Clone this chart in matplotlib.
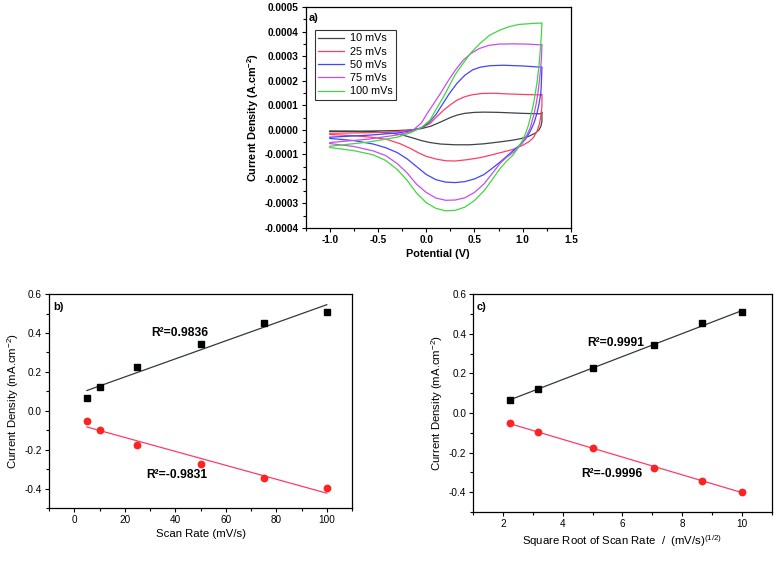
import numpy as np
import matplotlib
matplotlib.use("Agg")
import matplotlib.pyplot as plt
from matplotlib.ticker import MultipleLocator, FormatStrFormatter

plt.rcParams['font.family'] = ['Liberation Sans', 'DejaVu Sans']
plt.rcParams['axes.unicode_minus'] = False
plt.rcParams['mathtext.fontset'] = 'custom'
plt.rcParams['mathtext.rm'] = 'Liberation Sans'
plt.rcParams['mathtext.it'] = 'Liberation Sans:italic'
plt.rcParams['mathtext.bf'] = 'Liberation Sans:bold'

# ---- panel a) cyclic voltammograms, current in units of 1e-4 A/cm2 ----
cv_labels = ['10 mVs', '25 mVs', '50 mVs', '75 mVs', '100 mVs']
cv_colors = ['#3c4446', '#ff3d63', '#3f45ff', '#c84cf2', '#3fd83f']

e_10 = [-1.0, -0.6, -0.3, -0.15, -0.05, 0.05, 0.15, 0.25, 0.32, 0.4, 0.5, 0.6, 0.75, 1.0, 1.19, 1.2,
        1.2, 1.19, 1.17, 1.13, 1.06, 0.98, 0.9, 0.77, 0.6, 0.45, 0.3, 0.15, 0.04, -0.05, -0.15, -0.25,
        -0.35, -0.5, -0.75, -1.0]
i_10 = [-0.06, -0.05, -0.03, 0.0, 0.05, 0.15, 0.32, 0.50, 0.60, 0.67, 0.71, 0.72, 0.71, 0.67, 0.65, 0.72,
        0.35, 0.15, 0.0, -0.14, -0.27, -0.36, -0.42, -0.49, -0.57, -0.61, -0.61, -0.58, -0.52, -0.44, -0.32, -0.21,
        -0.14, -0.10, -0.07, -0.06]

e_25 = [-1.0, -0.6, -0.3, -0.15, -0.05, 0.04, 0.1, 0.18, 0.25, 0.32, 0.4, 0.48, 0.58, 0.7, 0.85, 1.0, 1.19, 1.2,
        1.2, 1.19, 1.175, 1.15, 1.11, 1.06, 1.0, 0.9, 0.77, 0.66, 0.55, 0.42, 0.3, 0.2, 0.1, 0.0, -0.08,
        -0.16, -0.27, -0.4, -0.55, -0.75, -1.0]
i_25 = [-0.14, -0.12, -0.07, -0.01, 0.08, 0.26, 0.50, 0.80, 1.02, 1.21, 1.35, 1.43, 1.48, 1.49, 1.46, 1.44, 1.42, 1.45,
        1.0, 0.60, 0.25, -0.05, -0.33, -0.50, -0.63, -0.80, -0.93, -1.04, -1.14, -1.22, -1.27, -1.26, -1.19, -1.08, -0.94,
        -0.77, -0.57, -0.40, -0.31, -0.24, -0.19]

e_50 = [-1.0, -0.6, -0.3, -0.15, -0.05, 0.03, 0.1, 0.17, 0.24, 0.32, 0.4, 0.48, 0.56, 0.66, 0.8, 1.0, 1.19, 1.2,
        1.195, 1.19, 1.17, 1.15, 1.12, 1.08, 1.03, 0.96, 0.88, 0.77, 0.68, 0.6, 0.5, 0.4, 0.3, 0.2, 0.1, 0.0,
        -0.1, -0.2, -0.3, -0.42, -0.55, -0.75, -1.0]
i_50 = [-0.30, -0.22, -0.13, -0.04, 0.08, 0.30, 0.62, 1.05, 1.48, 1.90, 2.22, 2.44, 2.55, 2.61, 2.63, 2.60, 2.55, 2.56,
        2.0, 1.55, 1.05, 0.70, 0.30, -0.05, -0.38, -0.66, -0.92, -1.30, -1.58, -1.82, -2.00, -2.11, -2.15, -2.13, -2.03, -1.82,
        -1.50, -1.18, -0.93, -0.73, -0.58, -0.44, -0.35]

e_75 = [-1.0, -0.6, -0.3, -0.15, -0.05, 0.01, 0.08, 0.15, 0.22, 0.3, 0.38, 0.46, 0.55, 0.65, 0.75, 0.9, 1.05, 1.19, 1.2,
        1.196, 1.19, 1.175, 1.16, 1.14, 1.115, 1.08, 1.04, 1.0, 0.95, 0.9, 0.83, 0.77, 0.68, 0.6, 0.5, 0.4, 0.3, 0.2,
        0.1, 0.0, -0.1, -0.2, -0.3, -0.42, -0.55, -0.75, -1.0]
i_75 = [-0.52, -0.38, -0.21, -0.06, 0.28, 0.67, 1.08, 1.50, 1.95, 2.42, 2.82, 3.10, 3.31, 3.44, 3.49, 3.50, 3.49, 3.46, 3.48,
        3.0, 2.64, 2.05, 1.55, 1.05, 0.60, 0.10, -0.25, -0.52, -0.75, -0.93, -1.13, -1.35, -1.80, -2.20, -2.55, -2.77, -2.86, -2.87,
        -2.78, -2.55, -2.22, -1.75, -1.38, -1.05, -0.86, -0.68, -0.56]

e_100 = [-1.0, -0.6, -0.3, -0.15, -0.05, 0.04, 0.1, 0.18, 0.24, 0.3, 0.37, 0.46, 0.56, 0.66, 0.77, 0.86, 0.96, 1.1, 1.2,
         1.195, 1.185, 1.17, 1.15, 1.13, 1.11, 1.085, 1.06, 1.03, 0.99, 0.94, 0.9, 0.84, 0.77, 0.68, 0.6, 0.5, 0.4, 0.3,
         0.2, 0.1, 0.0, -0.1, -0.2, -0.3, -0.42, -0.55, -0.75, -1.0]
i_100 = [-0.67, -0.50, -0.30, -0.10, 0.10, 0.40, 0.82, 1.35, 1.80, 2.25, 2.64, 3.12, 3.53, 3.86, 4.07, 4.20, 4.29, 4.33, 4.35,
         3.90, 3.35, 2.65, 1.96, 1.45, 1.01, 0.58, 0.19, -0.15, -0.49, -0.80, -1.03, -1.25, -1.55, -2.05, -2.48, -2.88, -3.15, -3.28,
         -3.30, -3.20, -2.97, -2.58, -2.05, -1.62, -1.25, -1.02, -0.85, -0.72]

cv_e = [e_10, e_25, e_50, e_75, e_100]
cv_i = [i_10, i_25, i_50, i_75, i_100]

# ---- panels b) and c) peak currents (mA/cm2) ----
scan_rate = np.array([5, 10, 25, 50, 75, 100])
sqrt_rate = np.array([2.236, 3.162, 5.0, 7.071, 8.660, 10.0])
anodic = np.array([0.065, 0.122, 0.225, 0.343, 0.453, 0.508])
cathodic = np.array([-0.052, -0.097, -0.176, -0.276, -0.345, -0.397])

r2_b = ['R²=0.9836', 'R²=-0.9831']
r2_c = ['R²=0.9991', 'R²=-0.9996']

fit_black = '#2e3b3b'
fit_red = '#ff3a66'

fig = plt.figure(figsize=(7.82, 5.63), dpi=100)
ax_a = fig.add_axes([0.391, 0.595, 0.339, 0.3925])
ax_b = fig.add_axes([0.0627, 0.0977, 0.3875, 0.380])
ax_c = fig.add_axes([0.605, 0.0906, 0.382, 0.387])

# panel a
for e, i, lab, col in zip(cv_e, cv_i, cv_labels, cv_colors):
    ax_a.plot(e, np.array(i) * 1e-4, color=col, lw=0.9, label=lab)
ax_a.set_xlim(-1.25, 1.5)
ax_a.set_ylim(-0.0004, 0.0005)
ax_a.xaxis.set_major_locator(MultipleLocator(0.5))
ax_a.xaxis.set_minor_locator(MultipleLocator(0.25))
ax_a.yaxis.set_major_locator(MultipleLocator(0.0001))
ax_a.yaxis.set_minor_locator(MultipleLocator(0.00005))
ax_a.xaxis.set_major_formatter(FormatStrFormatter('%.1f'))
ax_a.yaxis.set_major_formatter(FormatStrFormatter('%.4f'))
for t in ax_a.get_xticklabels() + ax_a.get_yticklabels():
    t.set_fontweight('bold')
ax_a.set_xlabel('Potential (V)', fontsize=7.8, fontweight='bold', labelpad=3)
ax_a.set_ylabel('Current Density (A.cm$^{\\mathbf{-2}}$)', fontsize=7.8, fontweight='bold', labelpad=3)
ax_a.text(0.01, 0.975, 'a)', transform=ax_a.transAxes, fontsize=7.8, fontweight='bold', va='top')
leg = ax_a.legend(loc='upper left', bbox_to_anchor=(0.033, 0.898), fontsize=7.8, frameon=True,
                  fancybox=False, edgecolor='black', handlelength=2.4, labelspacing=0.3,
                  borderpad=0.35, handletextpad=0.5, borderaxespad=0)
leg.get_frame().set_linewidth(0.8)

# panels b and c
for ax, x, r2, lab, pos in [
        (ax_b, scan_rate, r2_b, 'b)', [(30.6, 0.398), (28.6, -0.331)]),
        (ax_c, sqrt_rate, r2_c, 'c)', [(4.82, 0.355), (4.61, -0.308)])]:
    pa = np.polyfit(x, anodic, 1)
    pc = np.polyfit(x, cathodic, 1)
    xe = np.array([x[0], x[-1]])
    ax.plot(xe, np.polyval(pa, xe), color=fit_black, lw=0.9)
    ax.plot(xe, np.polyval(pc, xe), color=fit_red, lw=0.9)
    ax.plot(x, anodic, 's', color='black', ms=4.2)
    ax.plot(x, cathodic, 'o', color='#ff2222', ms=4.6)
    ax.text(pos[0][0], pos[0][1], r2[0], fontsize=8.7, fontweight='bold', va='center')
    ax.text(pos[1][0], pos[1][1], r2[1], fontsize=8.7, fontweight='bold', va='center')
    ax.text(0.013, 0.965, lab, transform=ax.transAxes, fontsize=8, fontweight='bold', va='top')
    ax.set_ylim(-0.5, 0.6)
    ax.yaxis.set_major_locator(MultipleLocator(0.2))
    ax.yaxis.set_minor_locator(MultipleLocator(0.1))
    ax.yaxis.set_major_formatter(FormatStrFormatter('%.1f'))
    ax.set_ylabel('Current Density (mA.cm$^{-2}$)', fontsize=8.2, labelpad=3)

ax_b.set_xlim(-10, 110)
ax_b.xaxis.set_major_locator(MultipleLocator(20))
ax_b.xaxis.set_minor_locator(MultipleLocator(10))
ax_b.set_xlabel('Scan Rate (mV/s)', fontsize=8.2, labelpad=3)

ax_c.set_xlim(1, 11)
ax_c.xaxis.set_major_locator(MultipleLocator(2))
ax_c.xaxis.set_minor_locator(MultipleLocator(1))
ax_c.set_xlabel('Square Root of Scan Rate  $\\mathit{/}$  (mV/s)$^{(1/2)}$', fontsize=8.2, labelpad=3)

for ax in [ax_a, ax_b, ax_c]:
    ax.tick_params(which='major', direction='out', length=3, width=0.8, labelsize=7.2, pad=2)
    ax.tick_params(which='minor', direction='out', length=2, width=0.8)
    for s in ax.spines.values():
        s.set_linewidth(0.9)

fig.savefig('out.png', dpi=100)
